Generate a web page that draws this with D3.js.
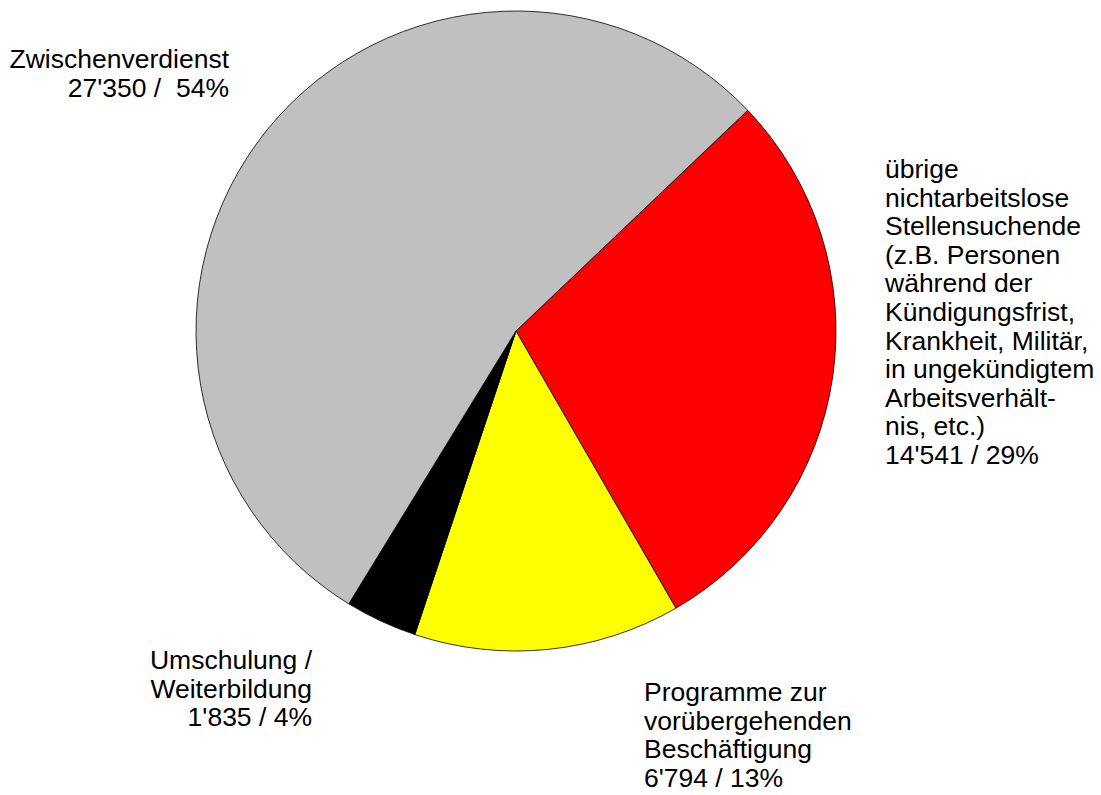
<!DOCTYPE html>
<html>
<head>
<meta charset="utf-8">
<script src="https://cdn.jsdelivr.net/npm/d3@7"></script>
<style>
  html, body { margin: 0; padding: 0; background: #fff; }
  svg { display: block; }
  text { font-family: "Liberation Sans", Arial, sans-serif; font-size: 26.5px; fill: #000; white-space: pre; }
</style>
</head>
<body>
<div class="artboard"></div>
<script>
// slices in drawing order, clockwise from the gray/red boundary
var categories = ['uebrige', 'programme', 'umschulung', 'zwischenverdienst'];
var values = [14541, 6794, 1835, 27350];
var colors = ['#ff0000', '#ffff00', '#000000', '#c0c0c0'];

// label text lines per slice
var labelLines = [
  ['übrige', 'nichtarbeitslose', 'Stellensuchende', '(z.B. Personen', 'während der',
   'Kündigungsfrist,', 'Krankheit, Militär,', 'in ungekündigtem', 'Arbeitsverhält-',
   'nis, etc.)', "14'541 / 29%"],
  ['Programme zur', 'vorübergehenden', 'Beschäftigung', "6'794 / 13%"],
  ['Umschulung /', 'Weiterbildung', "1'835 / 4%"],
  ['Zwischenverdienst', "27'350 /  54%"]
];

var width = 1101;
var height = 795;
var cx = 516, cy = 331, radius = 320;
var startDeg = 46.4;
var lineH = 28.6;

// label anchor: x, first baseline, text-anchor
var labelPos = [
  { x: 885, y: 178, anchor: 'start' },
  { x: 644, y: 701, anchor: 'start' },
  { x: 312, y: 669, anchor: 'end' },
  { x: 229, y: 68, anchor: 'end' }
];

var svg = d3.select('.artboard')
  .append('svg')
  .attr('width', width)
  .attr('height', height);

var data = values.map(function(v, i) { return { key: categories[i], v: v, idx: i }; });

var pie = d3.pie()
  .sort(null)
  .value(function(d) { return d.v; })
  .startAngle(startDeg * Math.PI / 180)
  .endAngle(startDeg * Math.PI / 180 + 2 * Math.PI);

var arc = d3.arc()
  .innerRadius(0)
  .outerRadius(radius);

var g = svg.append('g')
  .attr('transform', 'translate(' + cx + ',' + cy + ')');

g.selectAll('path')
  .data(pie(data))
  .enter()
  .append('path')
  .attr('d', arc)
  .attr('fill', function(d) { return colors[d.data.idx]; })
  .attr('stroke', '#000')
  .attr('stroke-width', 0.8)
  .attr('stroke-linejoin', 'round');

labelLines.forEach(function(lines, i) {
  var p = labelPos[i];
  var t = svg.append('text')
    .attr('x', p.x)
    .attr('y', p.y)
    .attr('text-anchor', p.anchor)
    .attr('xml:space', 'preserve');
  lines.forEach(function(line, j) {
    t.append('tspan')
      .attr('x', p.x)
      .attr('y', p.y + j * lineH)
      .text(line);
  });
});
</script>
</body>
</html>
